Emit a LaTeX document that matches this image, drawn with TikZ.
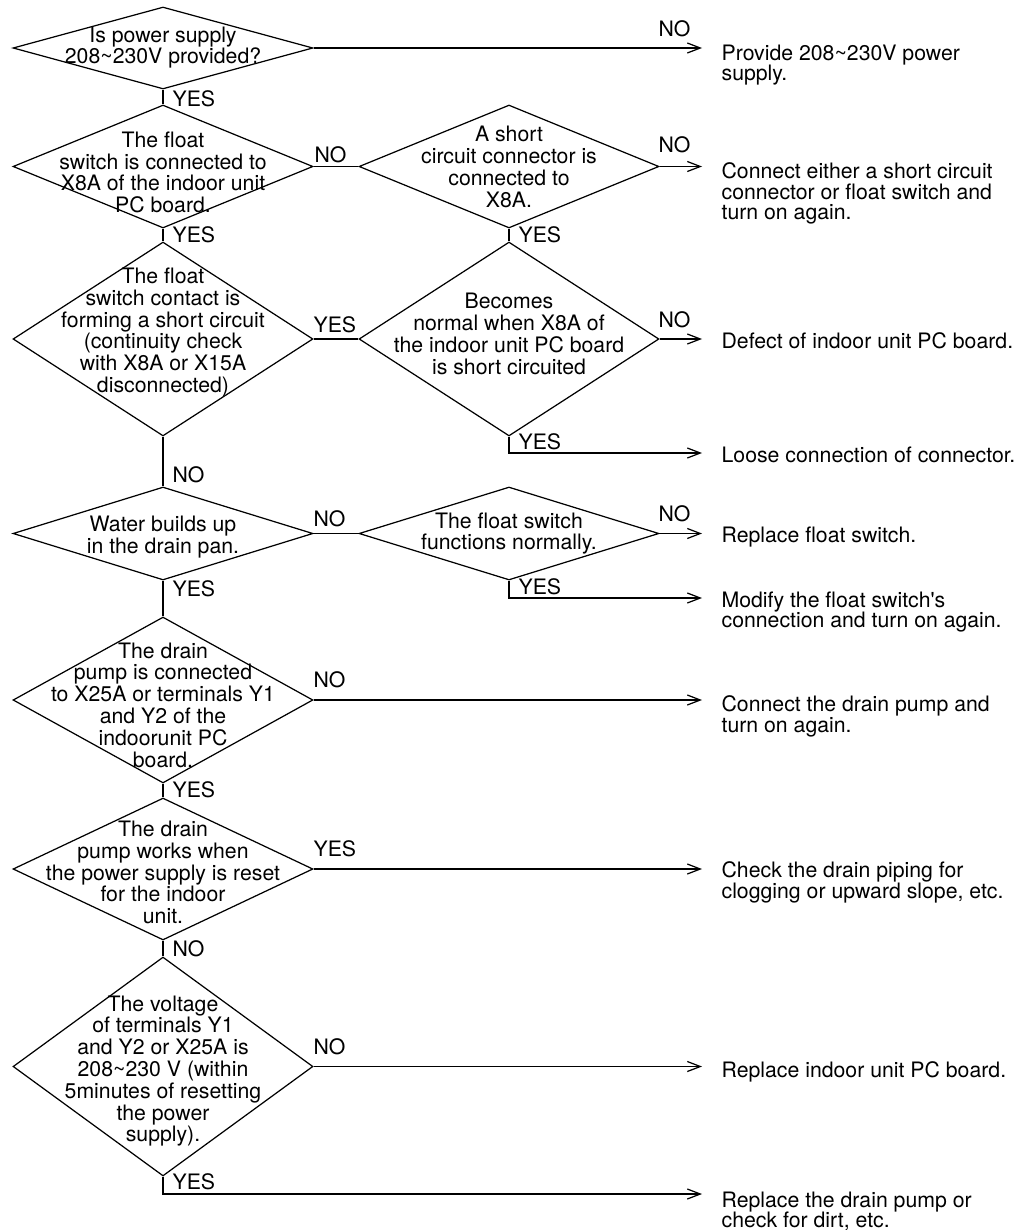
\documentclass[tikz,border=0pt]{standalone}
\usepackage{fontspec}
\setmainfont{TeX Gyre Heros}
\usetikzlibrary{shapes.geometric,arrows.meta,positioning}

\begin{document}
\begin{tikzpicture}[x=0.02cm,y=-0.02cm,line width=0.7pt,
  decision/.style={draw,diamond,inner sep=0pt,minimum width=6cm},
  qtext/.style={align=center,inner sep=0pt,font=\fontsize{12.1}{12.4}\selectfont},
  result/.style={align=left,anchor=north west,inner sep=0pt,font=\fontsize{12.1}{11.7}\selectfont},
  lbl/.style={anchor=south west,inner sep=0pt,font=\fontsize{12.1}{12}\selectfont},
  arr/.style={-{Straight Barb[length=7.4pt,width=5.7pt]}}]
\useasboundingbox (0,0) rectangle (1028,1230);
% checks, left column
\node[decision,minimum height=1.64cm] (d1) at (163,48) {};
\node[decision,minimum height=2.46cm] (d2) at (163,166.5) {};
\node[decision,minimum height=3.88cm] (d3) at (163,339) {};
\node[decision,minimum height=1.86cm] (d4) at (163,533.5) {};
\node[decision,minimum height=3.32cm] (d5) at (163,700) {};
\node[decision,minimum height=2.84cm] (d6) at (163,869) {};
\node[decision,minimum height=4.38cm] (d7) at (163,1066.5) {};
% checks, second column
\node[decision,minimum height=2.46cm] (d2b) at (509,166.5) {};
\node[decision,minimum height=3.88cm] (d3b) at (509,339) {};
\node[decision,minimum height=1.86cm] (d4b) at (509,533.5) {};
% questions
\node[qtext] (q1) at (163,47.5) {Is power supply\\208\textasciitilde230V provided?};
\node[qtext] (q2) at (163,172.5) {The float\\switch is connected to\\X8A of the indoor unit\\PC board.};
\node[qtext] (q3) at (163,332.5) {The float\\switch contact is\\forming a short circuit\\(continuity check\\with X8A or X15A\\disconnected)};
\node[qtext] (q4) at (163,537) {Water builds up\\in the drain pan.};
\node[qtext] (q5) at (163,705) {The drain\\pump is connected\\to X25A or terminals Y1\\and Y2 of the\\indoorunit PC\\board.};
\node[qtext] (q6) at (163,872.5) {The drain\\pump works when\\the power supply is reset\\for the indoor\\unit.};
\node[qtext] (q7) at (163,1071) {The voltage\\of terminals Y1\\and Y2 or X25A is\\208\textasciitilde230 V (within\\5minutes of resetting\\the power\\supply).};
\node[qtext] (q2b) at (509,167) {A short\\circuit connector is\\connected to\\X8A.};
\node[qtext] (q3b) at (509,334) {Becomes\\normal when X8A of\\the indoor unit PC board\\is short circuited};
\node[qtext] (q4b) at (509,533.5) {The float switch\\functions normally.};
% arrow ends
\coordinate (e1) at (702,48);
\coordinate (e2) at (702,166.5);
\coordinate (e3) at (702,339);
\coordinate (e4) at (702,453);
\coordinate (e5) at (702,533.5);
\coordinate (e6) at (702,598);
\coordinate (e7) at (702,700);
\coordinate (e8) at (702,869);
\coordinate (e9) at (702,1066.5);
\coordinate (e10) at (702,1194);
% remedies
\node[result] (r1) at (721,44) {Provide 208\textasciitilde230V power\\supply.};
\node[result] (r2) at (721,162) {Connect either a short circuit\\connector or float switch and\\turn on again.};
\node[result] (r3) at (721,332) {Defect of indoor unit PC board.};
\node[result] (r4) at (721,446) {Loose connection of connector.};
\node[result] (r5) at (721,526) {Replace float switch.};
\node[result] (r6) at (721,591) {Modify the float switch\textquotesingle s\\connection and turn on again.};
\node[result] (r7) at (721,695) {Connect the drain pump and\\turn on again.};
\node[result] (r8) at (721,861) {Check the drain piping for\\clogging or upward slope, etc.};
\node[result] (r9) at (721,1061) {Replace indoor unit PC board.};
\node[result] (r10) at (721,1191) {Replace the drain pump or\\check for dirt, etc.};
% flow down the left column
\draw (d1.south) -- (d2.north);
\draw (d2.south) -- (d3.north);
\draw (d3.south) -- (d4.north);
\draw (d4.south) -- (d5.north);
\draw (d5.south) -- (d6.north);
\draw (d6.south) -- (d7.north);
\draw (d2b.south) -- (d3b.north);
\draw (d2.east) -- (d2b.west);
\draw (d3.east) -- (d3b.west);
\draw (d4.east) -- (d4b.west);
% arrows to remedies
\draw[arr] (d1.east) -- (e1);
\draw[arr] (d2b.east) -- (e2);
\draw[arr] (d3b.east) -- (e3);
\draw[arr] (d3b.south) |- (e4);
\draw[arr] (d4b.east) -- (e5);
\draw[arr] (d4b.south) |- (e6);
\draw[arr] (d5.east) -- (e7);
\draw[arr] (d6.east) -- (e8);
\draw[arr] (d7.east) -- (e9);
\draw[arr] (d7.south) |- (e10);
% yes/no labels
\node[lbl] (l1) at (658,37) {NO};
\node[lbl] (l2) at (172,107) {YES};
\node[lbl] (l3) at (314,163) {NO};
\node[lbl] (l4) at (658,153) {NO};
\node[lbl] (l5) at (172,243) {YES};
\node[lbl] (l6) at (518,243) {YES};
\node[lbl] (l7) at (313,333) {YES};
\node[lbl] (l8) at (658,328) {NO};
\node[lbl] (l9) at (518,450) {YES};
\node[lbl] (l10) at (172,483) {NO};
\node[lbl] (l11) at (313,527) {NO};
\node[lbl] (l12) at (658,522) {NO};
\node[lbl] (l13) at (518,595) {YES};
\node[lbl] (l14) at (172,597) {YES};
\node[lbl] (l15) at (313,688) {NO};
\node[lbl] (l16) at (172,798) {YES};
\node[lbl] (l17) at (313,857) {YES};
\node[lbl] (l18) at (172,957) {NO};
\node[lbl] (l19) at (313,1055) {NO};
\node[lbl] (l20) at (172,1190) {YES};
\end{tikzpicture}
\end{document}
